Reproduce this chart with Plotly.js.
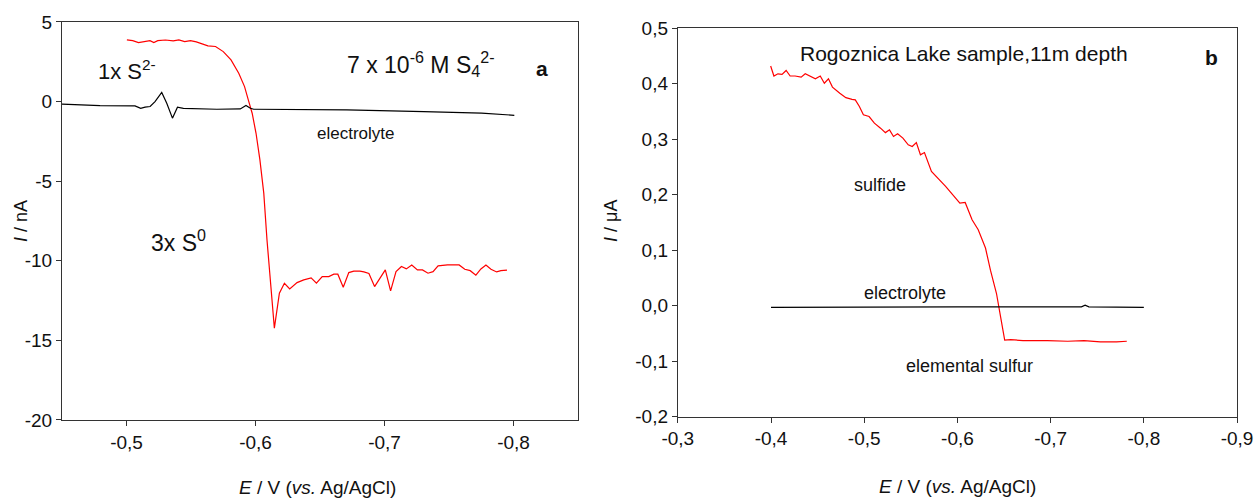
<!DOCTYPE html>
<html><head><meta charset="utf-8">
<script src="https://cdn.plot.ly/plotly-3.0.1.min.js"></script>
<style>body{margin:0;background:#fff}#p{width:1255px;height:501px}</style>
</head><body><div id="p"></div>
<script>
// Panel a: 7e-6 M S4^2- (red) and electrolyte (black)
const aRedE = [-0.5003,-0.5048,-0.5093,-0.5137,-0.5182,-0.5212,-0.5242,-0.5302,-0.5362,-0.5406,-0.5451,-0.5496,-0.5541,-0.5631,-0.5690,-0.5750,-0.5810,-0.5870,-0.5915,-0.5944,-0.5974,-0.6004,-0.6034,-0.6064,-0.6089,-0.6146,-0.6185,-0.6224,-0.6265,-0.6322,-0.6374,-0.6431,-0.6472,-0.6517,-0.6568,-0.6607,-0.6638,-0.6680,-0.6723,-0.6762,-0.6809,-0.6840,-0.6879,-0.6923,-0.6964,-0.7006,-0.7047,-0.7089,-0.7131,-0.7169,-0.7211,-0.7255,-0.7294,-0.7337,-0.7376,-0.7415,-0.7488,-0.7578,-0.7622,-0.7664,-0.7708,-0.7747,-0.7786,-0.7825,-0.7869,-0.7902,-0.7949];
const aRedI = [3.875,3.83,3.71,3.79,3.83,3.71,3.83,3.87,3.81,3.87,3.77,3.83,3.75,3.50,3.46,3.14,2.62,1.78,0.94,0.11,-0.73,-1.99,-3.66,-5.75,-8.69,-14.23,-12.04,-11.41,-11.77,-11.37,-11.20,-11.07,-11.41,-10.99,-10.99,-10.84,-10.84,-11.66,-10.74,-10.65,-10.65,-10.70,-10.80,-11.62,-11.09,-10.57,-11.89,-10.68,-10.36,-10.51,-10.26,-10.57,-10.57,-10.78,-10.68,-10.32,-10.26,-10.26,-10.53,-10.62,-10.90,-10.51,-10.26,-10.53,-10.70,-10.62,-10.59];
const aElE = [-0.45,-0.4795,-0.5066,-0.5110,-0.5144,-0.5183,-0.5221,-0.5273,-0.5312,-0.5356,-0.5395,-0.5441,-0.5701,-0.5882,-0.5926,-0.5960,-0.5986,-0.6348,-0.6707,-0.7304,-0.7752,-0.8006];
const aElI = [-0.16,-0.25,-0.27,-0.42,-0.35,-0.31,0.0,0.57,-0.10,-1.04,-0.35,-0.42,-0.48,-0.46,-0.25,-0.42,-0.48,-0.48,-0.52,-0.63,-0.73,-0.86];
// Panel b: Rogoznica Lake sample (red) and electrolyte (black)
const bRedE = [-0.3996,-0.4031,-0.4074,-0.4118,-0.4162,-0.4205,-0.4258,-0.4323,-0.4367,-0.4432,-0.4476,-0.4528,-0.4572,-0.4616,-0.4659,-0.4738,-0.4803,-0.4869,-0.4904,-0.4948,-0.4991,-0.5052,-0.5109,-0.5175,-0.5227,-0.5271,-0.5314,-0.5358,-0.5415,-0.5472,-0.5515,-0.5559,-0.5603,-0.5646,-0.5721,-0.5873,-0.6026,-0.6083,-0.6157,-0.6223,-0.6301,-0.6354,-0.6419,-0.6463,-0.6507,-0.6572,-0.6703,-0.6965,-0.7183,-0.7358,-0.7533,-0.7707,-0.7817];
const bRedI = [0.432,0.414,0.418,0.417,0.424,0.414,0.414,0.412,0.418,0.413,0.409,0.414,0.401,0.409,0.394,0.383,0.375,0.372,0.371,0.359,0.344,0.341,0.329,0.320,0.312,0.317,0.305,0.310,0.302,0.290,0.287,0.294,0.272,0.276,0.242,0.215,0.185,0.186,0.155,0.137,0.104,0.064,0.022,-0.020,-0.062,-0.061,-0.063,-0.063,-0.064,-0.063,-0.065,-0.065,-0.064];
const bElE = [-0.40,-0.50,-0.60,-0.70,-0.733,-0.737,-0.741,-0.80];
const bElI = [-0.003,-0.002,-0.002,-0.002,-0.002,0.001,-0.002,-0.003];
// Axis ticks
const aXTicks = [-0.5,-0.6,-0.7,-0.8];
const aXLabels = ['-0,5','-0,6','-0,7','-0,8'];
const aYTicks = [5,0,-5,-10,-15,-20];
const aYLabels = ['5','0','-5','-10','-15','-20'];
const bXTicks = [-0.3,-0.4,-0.5,-0.6,-0.7,-0.8,-0.9];
const bXLabels = ['-0,3','-0,4','-0,5','-0,6','-0,7','-0,8','-0,9'];
const bYTicks = [0.5,0.4,0.3,0.2,0.1,0.0,-0.1,-0.2];
const bYLabels = ['0,5','0,4','0,3','0,2','0,1','0,0','-0,1','-0,2'];

const F = 'Liberation Sans';
const TC = '#111';
function mkAxis(extra) {
  return Object.assign({
    showline:true, mirror:true, linecolor:'#333', linewidth:1,
    ticks:'outside', ticklen:5, tickwidth:1, tickcolor:'#333',
    showgrid:false, zeroline:false, tickmode:'array',
    tickfont:{family:F, size:19, color:TC}
  }, extra);
}
const traces = [
  {x:aRedE, y:aRedI, mode:'lines', line:{color:'#ff0000', width:1.2}, xaxis:'x', yaxis:'y'},
  {x:aElE, y:aElI, mode:'lines', line:{color:'#000000', width:1.2}, xaxis:'x', yaxis:'y'},
  {x:bRedE, y:bRedI, mode:'lines', line:{color:'#ff0000', width:1.2}, xaxis:'x2', yaxis:'y2'},
  {x:bElE, y:bElI, mode:'lines', line:{color:'#000000', width:1.2}, xaxis:'x2', yaxis:'y2'}
];
function ann(x, y, text, size, extra) {
  return Object.assign({xref:'paper', yref:'paper', x:x/1255, y:1-y/501, xanchor:'center', yanchor:'middle',
    text:text, showarrow:false, font:{family:F, size:size, color:TC}}, extra || {});
}
const layout = {
  width:1255, height:501, margin:{l:0,r:0,t:0,b:0,pad:0}, showlegend:false,
  paper_bgcolor:'white', plot_bgcolor:'white', font:{family:F, size:19, color:TC},
  xaxis: mkAxis({domain:[0.0494,0.4606], range:[-0.45,-0.85], tickvals:aXTicks, ticktext:aXLabels, anchor:'y'}),
  yaxis: mkAxis({domain:[0.1617,0.9561], range:[-20,5], tickvals:aYTicks, ticktext:aYLabels, anchor:'x'}),
  xaxis2: mkAxis({domain:[0.5401,0.9857], range:[-0.3,-0.9], tickvals:bXTicks, ticktext:bXLabels, anchor:'y2'}),
  yaxis2: mkAxis({domain:[0.1683,0.9435], range:[-0.2,0.5], tickvals:bYTicks, ticktext:bYLabels, anchor:'x2'}),
  annotations: [
    ann(317, 487, '<i>E</i> / V (<i>vs.</i> Ag/AgCl)', 19),
    ann(957, 486, '<i>E</i> / V (<i>vs.</i> Ag/AgCl)', 19),
    ann(21, 221, '<i>I</i> / nA', 18, {textangle:-90}),
    ann(611, 221, '<i>I</i> / μA', 18, {textangle:-90}),
    ann(127, 70, '1x S<sup>2-</sup>', 22),
    ann(421, 64, '7 x 10<sup>-6</sup> M S<sub>4</sub><sup>2-</sup>', 23),
    ann(542, 68, '<b>a</b>', 21),
    ann(355, 133, 'electrolyte', 17),
    ann(178, 241, '3x S<sup>0</sup>', 23),
    ann(964, 53, 'Rogoznica Lake sample,11m depth', 21),
    ann(1211, 57, '<b>b</b>', 21),
    ann(880, 185, 'sulfide', 18),
    ann(905, 293, 'electrolyte', 18),
    ann(969, 366, 'elemental sulfur', 18)
  ]
};
Plotly.newPlot('p', traces, layout, {staticPlot:true});
</script></body></html>
